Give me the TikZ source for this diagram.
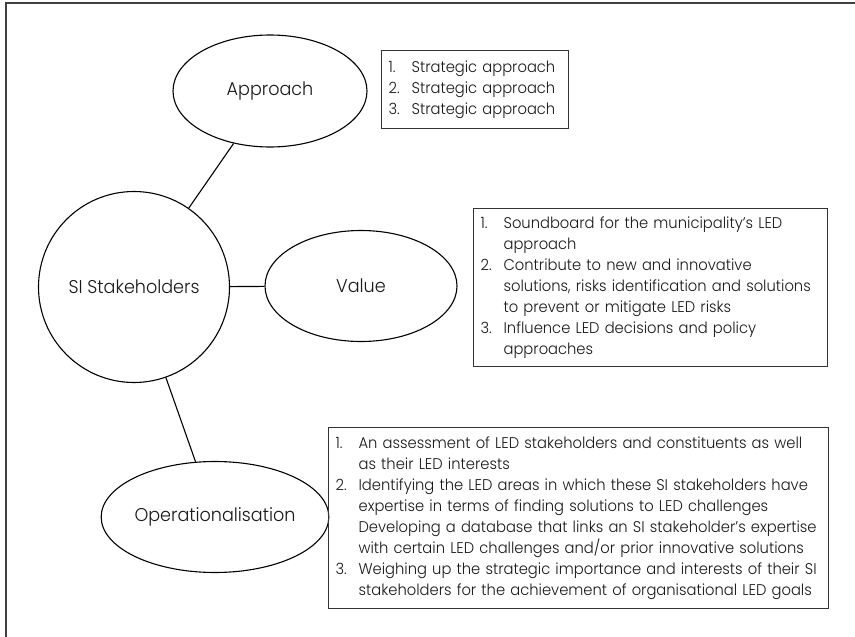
\documentclass[tikz,border=0pt]{standalone}
\usepackage{fontspec}
\setmainfont{Poppins}[UprightFont={* Light},FakeStretch=0.95]
\usetikzlibrary{shapes.geometric}
\newcommand\Ln[2]{\mbox{\makebox[23pt][l]{#1}#2}}
\begin{document}
\begin{tikzpicture}[x=1pt,y=-1pt,
  frame/.style={draw=black!75,line width=1.6pt},
  bub/.style={draw=black,line width=1.1pt,ellipse,inner sep=0pt,text=black!90,font=\fontsize{18.5}{22}\selectfont},
  link/.style={draw=black,line width=1.1pt},
  txtbox/.style={draw=black!80,line width=1.2pt,rectangle,inner xsep=7pt,inner ysep=0pt,align=left,text=black!90,font=\fontsize{15.5}{21.1}\selectfont}]
\useasboundingbox (0,0) rectangle (855,637);
\fill[white] (0,0) rectangle (855,637);
\draw[frame] (6,637) -- (6,3) -- (855,3);

\node[bub,minimum width=194pt,minimum height=112pt] (appr) at (270,91) {Approach};
\node[bub,circle,minimum size=191pt] (si) at (134,287) {SI Stakeholders};
\node[bub,minimum width=192pt,minimum height=111pt] (val) at (361,286) {Value};
\node[bub,minimum width=194pt,minimum height=111pt] (op) at (215,517) {Operationalisation};

\draw[link] (si) -- (appr);
\draw[link] (si) -- (val);
\draw[link] (si) -- (op);

\node[txtbox,anchor=north west,text width=173pt,minimum height=78pt] (b1) at (381,50) {%
\Ln{1.}{Strategic approach}\\
\Ln{2.}{Strategic approach}\\
\Ln{3.}{Strategic approach}};

\node[txtbox,anchor=north west,text width=340pt,minimum height=158pt] (b2) at (473,208) {%
\Ln{1.}{Soundboard for the municipality’s LED}\\
\Ln{}{approach}\\
\Ln{2.}{Contribute to new and innovative}\\
\Ln{}{solutions, risks identification and solutions}\\
\Ln{}{to prevent or mitigate LED risks}\\
\Ln{3.}{Influence LED decisions and policy}\\
\Ln{}{approaches}};

\node[txtbox,anchor=north west,text width=486pt,minimum height=181pt] (b3) at (328,427) {%
\Ln{1.}{An assessment of LED stakeholders and constituents as well}\\
\Ln{}{as their LED interests}\\
\Ln{2.}{Identifying the LED areas in which these SI stakeholders have}\\
\Ln{}{expertise in terms of finding solutions to LED challenges}\\
\Ln{}{Developing a database that links an SI stakeholder’s expertise}\\
\Ln{}{with certain LED challenges and/or prior innovative solutions}\\
\Ln{3.}{Weighing up the strategic importance and interests of their SI}\\
\Ln{}{stakeholders for the achievement of organisational LED goals}};
\end{tikzpicture}
\end{document}
